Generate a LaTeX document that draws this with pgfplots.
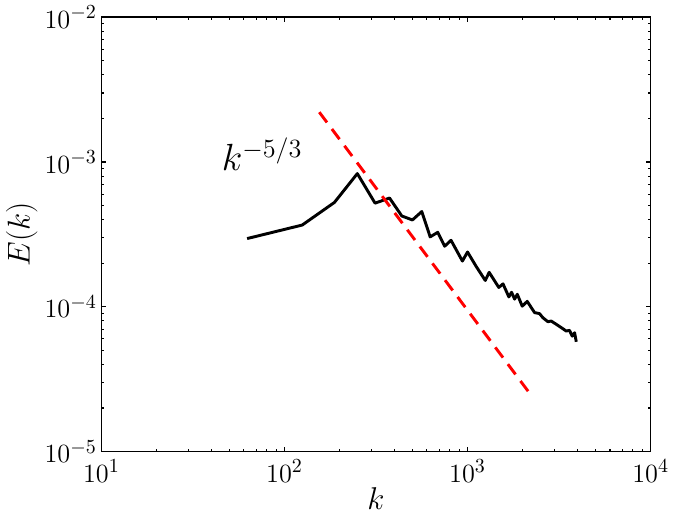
\documentclass[border=0pt]{standalone}
\usepackage{pgfplots}
\pgfplotsset{compat=1.18}
\begin{document}
\begin{tikzpicture}
\begin{axis}[
  scale only axis, width=301pt, height=238pt,
  xmode=log, ymode=log,
  xmin=10, xmax=1e4, ymin=1e-5, ymax=1e-2,
  tick align=inside,
  major tick length=2.5pt, minor tick length=1.5pt,
  axis line style={line width=0.9pt},
  every tick/.style={black, line width=0.6pt},
  tick label style={font=\fontsize{15}{18}\selectfont},
  xlabel={\fontsize{18}{22}\selectfont $k$},
  ylabel={\fontsize{18}{22}\selectfont $E(k)$},
  xticklabel style={yshift=-1pt},
  yticklabel style={xshift=1pt},
  xlabel style={yshift=4pt},
  ylabel style={yshift=-3pt},
  clip=false,
]
\addplot[black, line width=1.6pt, line join=round] coordinates {
(62.5,2.96e-4) (125,3.67e-4) (187.5,5.26e-4) (250,8.32e-4)
(312.5,5.2e-4) (375,5.64e-4) (437.5,4.24e-4) (500,3.98e-4)
(562.5,4.55e-4) (625,3.04e-4) (687.5,3.27e-4) (750,2.62e-4)
(812.5,2.88e-4) (937.5,2.07e-4) (1000,2.39e-4) (1115,1.90e-4)
(1250,1.52e-4) (1312.5,1.73e-4) (1482,1.36e-4) (1562.5,1.44e-4)
(1682,1.17e-4) (1740,1.26e-4) (1808,1.13e-4) (1870,1.22e-4)
(1990,1.01e-4) (2119,1.09e-4) (2323,9.12e-5) (2474,8.97e-5)
(2578,8.41e-5) (2746,7.89e-5) (2865,7.97e-5) (3052,7.57e-5)
(3252,7.18e-5) (3459,6.80e-5) (3606,6.87e-5) (3732,6.27e-5)
(3846,6.62e-5) (3927,5.73e-5)
};
\addplot[red, line width=1.6pt, dash pattern=on 7pt off 4.5pt] coordinates {
(155,2.21e-3) (2183,2.53e-5)
};
\node[anchor=base west, inner sep=0pt] at (axis cs:45.3,8.69e-4) {\fontsize{22}{26}\selectfont $k^{-5/3}$};
\end{axis}
\end{tikzpicture}
\end{document}
